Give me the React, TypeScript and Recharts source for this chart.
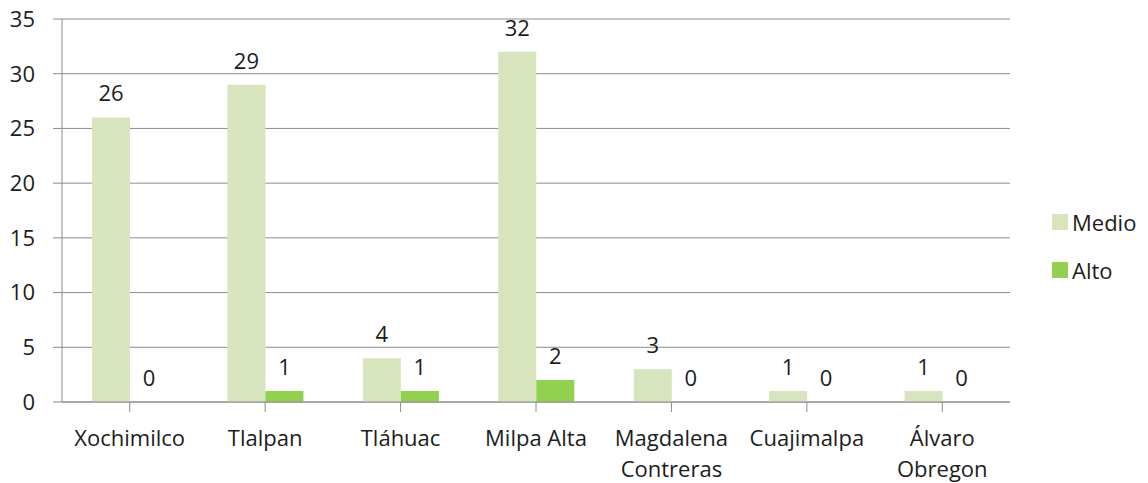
import { BarChart, Bar, XAxis, YAxis, CartesianGrid, Legend, LabelList } from 'recharts'

const categories = ['Xochimilco', 'Tlalpan', 'Tláhuac', 'Milpa Alta', 'Magdalena Contreras', 'Cuajimalpa', 'Álvaro Obregon']
const tickLines = [['Xochimilco'], ['Tlalpan'], ['Tláhuac'], ['Milpa Alta'], ['Magdalena', 'Contreras'], ['Cuajimalpa'], ['Álvaro', 'Obregon']]
const medio = [26, 29, 4, 32, 3, 1, 1]
const alto = [0, 1, 1, 2, 0, 0, 0]
const yTicks = [0, 5, 10, 15, 20, 25, 30, 35]
const seriesOrder = ['Medio', 'Alto']

const FONT = '"Open Sans", sans-serif'
const TEXT = '#1c1c1c'
const GRID = '#8c8c8c'

const data = categories.map((name, i) => ({ name, Medio: medio[i], Alto: alto[i] }))

const CatTick = ({ x, y, index }) => {
  const lines = tickLines[index] || []
  return (
    <g>
      {lines.map((l, i) => (
        <text key={i} x={x} y={y + 32 + i * 31} textAnchor="middle" fill={TEXT} fontSize={22} fontFamily={FONT}>
          {l}
        </text>
      ))}
    </g>
  )
}

const LegendBox = ({ payload }) => {
  const items = [...(payload || [])].sort((a, b) => seriesOrder.indexOf(a.value) - seriesOrder.indexOf(b.value))
  return (
    <div style={{ fontFamily: FONT, fontSize: 22, color: TEXT }}>
      {items.map((p, i) => (
        <div key={i} style={{ display: 'flex', alignItems: 'center', height: 48 }}>
          <span style={{ width: 16, height: 16, background: p.color, display: 'inline-block', marginRight: 4 }} />
          <span>{p.value}</span>
        </div>
      ))}
    </div>
  )
}

export default function App() {
  return (
    <div style={{ position: 'absolute', left: 0, top: 0, background: '#fff' }}>
      <BarChart
        width={1148}
        height={483}
        data={data}
        margin={{ top: 19, right: 138, bottom: 10, left: 0 }}
        barGap={0}
        barSize={38}
      >
        <CartesianGrid vertical={false} stroke={GRID} strokeWidth={1} />
        <YAxis
          width={62}
          domain={[0, 35]}
          ticks={yTicks}
          interval={0}
          tickSize={9}
          tickMargin={18}
          axisLine={{ stroke: GRID }}
          tickLine={{ stroke: GRID }}
          tick={{ fill: TEXT, fontSize: 22, fontFamily: FONT }}
        />
        <XAxis
          dataKey="name"
          height={71}
          interval={0}
          tickSize={10}
          tickMargin={2}
          axisLine={{ stroke: GRID }}
          tickLine={{ stroke: GRID }}
          tick={<CatTick />}
        />
        <Legend
          layout="horizontal"
          align="center"
          verticalAlign="middle"
          content={<LegendBox />}
          wrapperStyle={{ left: 1052, top: 198, width: 96 }}
        />
        <Bar dataKey="Medio" fill="#d7e4bd" minPointSize={0.01} isAnimationActive={false}>
          <LabelList dataKey="Medio" position="top" offset={16} fill={TEXT} fontSize={22} fontFamily={FONT} />
        </Bar>
        <Bar dataKey="Alto" fill="#92d050" minPointSize={0.01} isAnimationActive={false}>
          <LabelList dataKey="Alto" position="top" offset={16} fill={TEXT} fontSize={22} fontFamily={FONT} />
        </Bar>
      </BarChart>
    </div>
  )
}
